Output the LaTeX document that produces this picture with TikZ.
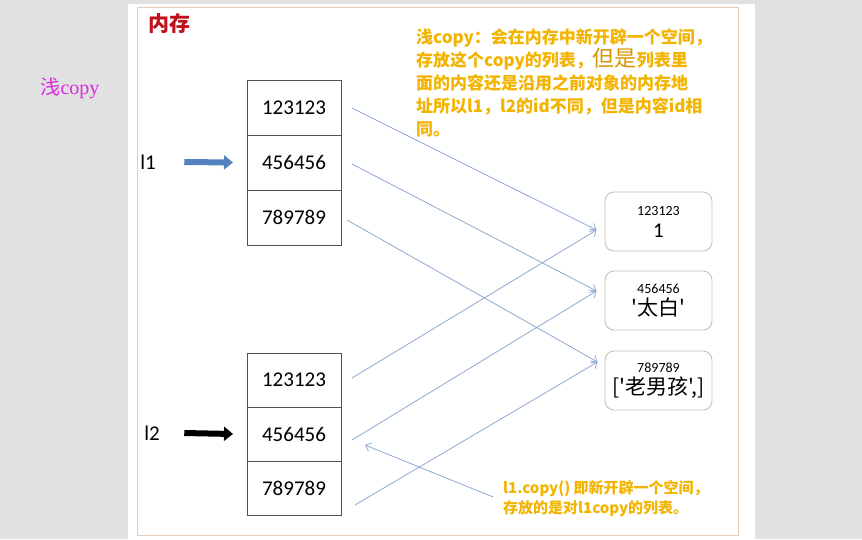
\documentclass[tikz,border=0pt]{standalone}
\usepackage{fontspec}
\setmainfont{Carlito}
\newfontfamily\cjk{Noto Sans CJK SC}[Ligatures=TeXOff]
\newfontfamily\serifcopy{Liberation Serif}
\usetikzlibrary{arrows.meta,positioning}

\definecolor{memred}{RGB}{192,16,28}
\definecolor{notegold}{RGB}{242,180,0}
\definecolor{darkgold}{RGB}{214,150,0}
\definecolor{linkblue}{RGB}{140,170,210}
\definecolor{framepeach}{RGB}{236,204,176}
\definecolor{pagegray}{RGB}{225,225,225}
\definecolor{cellgray}{RGB}{80,80,80}
\definecolor{valedge}{RGB}{200,194,176}
\definecolor{refblue}{RGB}{84,130,190}
\definecolor{titlemagenta}{RGB}{222,40,222}

\begin{document}
\begin{tikzpicture}[x=1pt,y=-1pt,
  cell/.style={draw=cellgray,line width=0.8pt,minimum width=94pt,inner sep=0pt,outer sep=0pt,
    font=\fontsize{21}{24}\selectfont},
  valbox/.style={draw=valedge,rounded corners=9pt,line width=0.9pt,minimum width=107pt,
    minimum height=59pt,align=center,inner sep=0pt,font=\fontsize{21}{21}\selectfont},
  small/.style={font=\fontsize{14}{16}\selectfont},
  link/.style={linkblue,line width=0.8pt,-{Straight Barb[length=5pt,width=9pt]}},
  fat/.style={line width=6pt,-{Triangle[length=9pt,width=14pt]}},
  note/.style={notegold,align=left,inner sep=0pt,anchor=north west}
]
\useasboundingbox (0,0) rectangle (862,539);
\fill[pagegray] (0,0) rectangle (862,539);
\fill[white] (128,4) rectangle (755,539);
\draw[framepeach,line width=0.8pt] (137,7) rectangle (738,535);

\node[titlemagenta,font=\fontsize{20}{24}\selectfont] (title) at (70,88) {{\cjk 浅}{\serifcopy copy}};
\node[memred,font=\cjk\bfseries\fontsize{21}{24}\selectfont] (mem) at (169,24) {内存};

\node[cell,minimum height=55pt] (a1) at (294,107.5) {123123};
\node[cell,minimum height=55pt,below=0pt of a1] (a2) {456456};
\node[cell,minimum height=55pt,below=0pt of a2] (a3) {789789};

\node[cell,minimum height=54pt] (b1) at (294,380) {123123};
\node[cell,minimum height=54pt,below=0pt of b1] (b2) {456456};
\node[cell,minimum height=54pt,below=0pt of b2] (b3) {789789};

\node[font=\fontsize{21}{24}\selectfont] (l1) at (148,162) {l1};
\node[font=\fontsize{21}{24}\selectfont] (l2) at (152,433) {l2};
\draw[fat,refblue] ([xshift=25pt]l1.east) -- ([xshift=-14pt]a2.west);
\draw[fat,black] ([xshift=21pt]l2.east) -- ([xshift=-14pt]b2.west);

\node[valbox] (v1) at (658.5,221.5) {{\small\fontsize{14}{16}\selectfont 123123}\\[1pt]1};
\node[valbox] (v2) at (658.5,300.5) {{\fontsize{14}{16}\selectfont 456456}\\[1pt]{\cjk '太白'}};
\node[valbox] (v3) at (658.5,380.5) {{\fontsize{14}{16}\selectfont 789789}\\[1pt]{\cjk ['老男孩',]}};

\draw[link] ([shift={(11,0.5)}]a1.east) -- ([shift={(-8,8.5)}]v1.west);
\draw[link] ([shift={(11,1.5)}]a2.east) -- ([shift={(-8,-9.5)}]v2.west);
\draw[link] ([shift={(6,2.5)}]a3.east) -- ([shift={(-7,-18.5)}]v3.west);
\draw[link] ([shift={(11,-2)}]b1.east) -- ([shift={(-8,8.5)}]v1.west);
\draw[link] ([shift={(11,6)}]b2.east) -- ([shift={(-8,-9.5)}]v2.west);
\draw[link] ([shift={(14,17)}]b3.east) -- ([shift={(-7,-18.5)}]v3.west);

\node[note,font=\cjk\bfseries\fontsize{17}{23}\selectfont] (shallow) at (416,29)
  {浅copy：会在内存中新开辟一个空间，\\
   存放这个copy的列表，{\mdseries\color{darkgold}\fontsize{22}{23}\selectfont 但是}列表里\\
   面的内容还是沿用之前对象的内存地\\
   址所以l1，l2的id不同，但是内容id相\\
   同。};

\node[note,font=\cjk\bfseries\fontsize{15}{20}\selectfont] (copynote) at (503,480)
  {l1.copy() 即新开辟一个空间，\\
   存放的是对l1copy的列表。};
\draw[link] ([shift={(-10,17)}]copynote.north west) -- ([shift={(24,11)}]b2.east);
\end{tikzpicture}
\end{document}
